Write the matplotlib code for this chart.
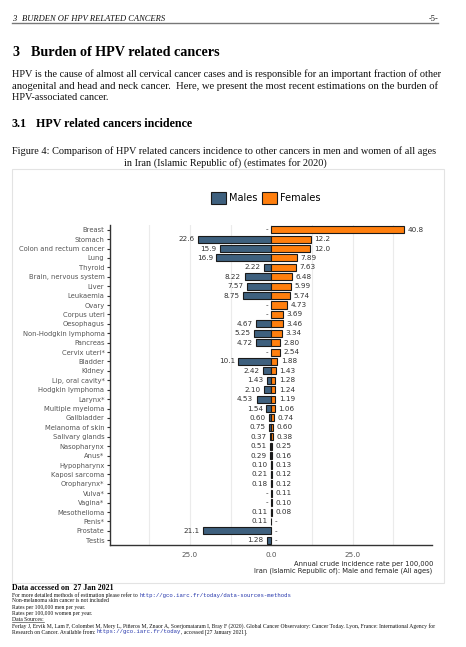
import numpy as np
import matplotlib
matplotlib.use("Agg")
import matplotlib.pyplot as plt
from matplotlib.patches import Rectangle, Patch
from matplotlib.lines import Line2D

W, H = 466, 647
fig = plt.figure(figsize=(W / 100, H / 100), dpi=100)
renderer = fig.canvas.get_renderer()


def fx(px):
    return px / W


def fy(py):
    return 1 - py / H


categories = ["Breast", "Stomach", "Colon and rectum cancer", "Lung", "Thyroid",
              "Brain, nervous system", "Liver", "Leukaemia", "Ovary", "Corpus uteri",
              "Oesophagus", "Non-Hodgkin lymphoma", "Pancreas", "Cervix uteri*", "Bladder",
              "Kidney", "Lip, oral cavity*", "Hodgkin lymphoma", "Larynx*", "Multiple myeloma",
              "Gallbladder", "Melanoma of skin", "Salivary glands", "Nasopharynx", "Anus*",
              "Hypopharynx", "Kaposi sarcoma", "Oropharynx*", "Vulva*", "Vagina*",
              "Mesothelioma", "Penis*", "Prostate", "Testis"]
males = [None, 22.6, 15.9, 16.9, 2.22, 8.22, 7.57, 8.75, None, None,
         4.67, 5.25, 4.72, None, 10.1, 2.42, 1.43, 2.10, 4.53, 1.54,
         0.60, 0.75, 0.37, 0.51, 0.29, 0.10, 0.21, 0.18, None, None,
         0.11, 0.11, 21.1, 1.28]
females = [40.8, 12.2, 12.0, 7.89, 7.63, 6.48, 5.99, 5.74, 4.73, 3.69,
           3.46, 3.34, 2.80, 2.54, 1.88, 1.43, 1.28, 1.24, 1.19, 1.06,
           0.74, 0.60, 0.38, 0.25, 0.16, 0.13, 0.12, 0.12, 0.11, 0.10,
           0.08, None, None, None]
x_ticks = [-25, 0, 25]
x_tick_labels = ["25.0", "0.0", "25.0"]

MALE_C = "#3e607e"
FEMALE_C = "#ff7f0e"
EDGE = "#1a1a1a"
SERIF = "Liberation Serif"
MONO = "Liberation Mono"
LINK = "#2233aa"


def fmt(v):
    if v is None:
        return "-"
    return f"{v:.1f}" if v >= 10 else f"{v:.2f}"


def fit(txt, x0, x1, y, **kw):
    """Place left-aligned text at (x0, y) sized so that it ends at x1 (pixels)."""
    t = fig.text(fx(x0), fy(y), txt, fontsize=10, ha="left", va="center", **kw)
    w = t.get_window_extent(renderer).width
    t.set_fontsize(10 * (x1 - x0) / w)
    return t


def chain(prev, txt, **kw):
    """Place text directly after a previous text artist."""
    t = fig.text(0, 0, txt, ha="left", va="center", **kw)
    bb = prev.get_window_extent(renderer)
    t.set_position((bb.x1 / fig.bbox.width, (bb.y0 + bb.y1) / 2 / fig.bbox.height))
    return t


# ---------------- page text ----------------
fig.text(fx(12), fy(19), "3", family=SERIF, style="italic", fontsize=6, va="center", ha="left")
fit("BURDEN OF HPV RELATED CANCERS", 22, 165.5, 19, family=SERIF, style="italic", color="#111")
fig.text(fx(438), fy(19), "-5-", family=SERIF, fontsize=6, va="center", ha="right", color="#111")
fig.add_artist(Line2D([fx(12), fx(438)], [fy(23), fy(23)], color="#777", lw=1.0))

sec = fit("Burden of HPV related cancers", 30.7, 220.7, 52, family=SERIF, weight="bold")
fig.text(fx(12), fy(52), "3", family=SERIF, weight="bold", fontsize=sec.get_fontsize(),
         va="center", ha="left")

para = ["HPV is the cause of almost all cervical cancer cases and is responsible for an important fraction of other",
        "anogenital and head and neck cancer.  Here, we present the most recent estimations on the burden of",
        "HPV-associated cancer."]
p1 = fit(para[0], 12, 438, 74, family=SERIF, color="#111")
fit(para[1], 12, 438, 86, family=SERIF, color="#111")
fig.text(fx(12), fy(97), para[2], family=SERIF, fontsize=p1.get_fontsize(), va="center",
         ha="left", color="#111")

sub = fit("HPV related cancers incidence", 36, 192.7, 124, family=SERIF, weight="bold")
fig.text(fx(12), fy(124), "3.1", family=SERIF, weight="bold", fontsize=sub.get_fontsize(),
         va="center", ha="left")

cap = fit("Figure 4: Comparison of HPV related cancers incidence to other cancers in men and women of all ages",
          12, 438, 151, family=SERIF, color="#111")
fig.text(fx(225), fy(163), "in Iran (Islamic Republic of) (estimates for 2020)",
         family=SERIF, fontsize=cap.get_fontsize(), va="center", ha="center", color="#111")

# chart frame
fig.add_artist(Rectangle((fx(12), fy(583)), fx(444) - fx(12), fy(169) - fy(583),
                         transform=fig.transFigure, fill=False, edgecolor="#e3e3e3", lw=0.8))

# ---------------- chart ----------------
ax = fig.add_axes([fx(110), fy(545), fx(432) - fx(110), fy(225) - fy(545)])
y = np.arange(len(categories))

mi = [i for i, v in enumerate(males) if v is not None]
fi = [i for i, v in enumerate(females) if v is not None]
ax.barh([y[i] for i in mi], [-males[i] for i in mi], height=0.75, color=MALE_C,
        edgecolor=EDGE, linewidth=0.8, zorder=3)
ax.barh([y[i] for i in fi], [females[i] for i in fi], height=0.75, color=FEMALE_C,
        edgecolor=EDGE, linewidth=0.8, zorder=3)

for i in range(len(categories)):
    m = males[i]
    f = females[i]
    ax.annotate(fmt(m), (-(m or 0), y[i]), xytext=(-2.5, 0), textcoords="offset points",
                ha="right", va="center", fontsize=5.2, color="#333")
    ax.annotate(fmt(f), ((f or 0), y[i]), xytext=(2.5, 0), textcoords="offset points",
                ha="left", va="center", fontsize=5.2, color="#333")

ax.set_ylim(len(categories) - 0.5, -0.5)
ax.set_xlim(-49.6, 49.4)
ax.set_yticks(y)
ax.set_yticklabels(categories)
ax.set_xticks(x_ticks)
ax.set_xticklabels(x_tick_labels)
ax.set_xticks(np.arange(-37.5, 40, 12.5), minor=True)
ax.grid(which="both", axis="x", color="#ebebeb", lw=0.8, zorder=0)
ax.set_axisbelow(True)
ax.tick_params(axis="y", length=2.5, width=0.8, color="#333", labelsize=4.9,
               labelcolor="#555", pad=1.5)
ax.tick_params(axis="x", which="both", length=0, labelsize=5.2, labelcolor="#555", pad=5)
for s in ["top", "right"]:
    ax.spines[s].set_visible(False)
for s in ["left", "bottom"]:
    ax.spines[s].set_color("#333")
    ax.spines[s].set_linewidth(1.0)

xl1 = fit("Annual crude incidence rate per 100,000", 294.3, 432, 564, color="#222")
fig.text(fx(432), fy(570.5), "Iran (Islamic Republic of): Male and female (All ages)",
         fontsize=xl1.get_fontsize(), ha="right", va="center", color="#222")

handles = [Patch(facecolor=MALE_C, edgecolor=EDGE, lw=0.8, label="Males"),
           Patch(facecolor=FEMALE_C, edgecolor=EDGE, lw=0.8, label="Females")]
fig.legend(handles=handles, loc="center", bbox_to_anchor=(fx(266), fy(198)), ncol=2,
           frameon=False, fontsize=7, handlelength=1.5, handleheight=1.45,
           handletextpad=0.35, columnspacing=0.5, borderaxespad=0)

# ---------------- footer ----------------
fit("Data accessed on  27 Jan 2021", 12, 112, 588, family=SERIF, weight="bold")
ref = fit("Ferlay J, Ervik M, Lam F, Colombet M, Mery L, Piñeros M, Znaor A, Soerjomataram I, Bray F (2020). "
          "Global Cancer Observatory: Cancer Today. Lyon, France: International Agency for",
          12, 437.7, 626, family=SERIF, color="#111")
small = ref.get_fontsize()
t = fig.text(fx(12), fy(595), "For more detailed methods of estimation please refer to ",
             family=SERIF, fontsize=small, va="center", ha="left", color="#111")
chain(t, "http://gco.iarc.fr/today/data-sources-methods", family=MONO, fontsize=small, color=LINK)
for txt, yy in [("Non-melanoma skin cancer is not included", 601),
                ("Rates per 100,000 men per year.", 607),
                ("Rates per 100,000 women per year.", 613)]:
    fig.text(fx(12), fy(yy), txt, family=SERIF, fontsize=small, va="center", ha="left", color="#111")
ds = fig.text(fx(12), fy(619.5), "Data Sources:", family=SERIF, fontsize=small, va="center",
              ha="left", color="#111")
dsb = ds.get_window_extent(renderer)
fig.add_artist(Line2D([fx(12), dsb.x1 / W], [fy(622), fy(622)], color="#222", lw=0.4))
t = fig.text(fx(12), fy(632), "Research on Cancer. Available from: ", family=SERIF, fontsize=small,
             va="center", ha="left", color="#111")
t = chain(t, "https://gco.iarc.fr/today", family=MONO, fontsize=small, color=LINK)
chain(t, ", accessed [27 January 2021].", family=SERIF, fontsize=small, color="#111")

fig.savefig("out.png", dpi=100, facecolor="white")
